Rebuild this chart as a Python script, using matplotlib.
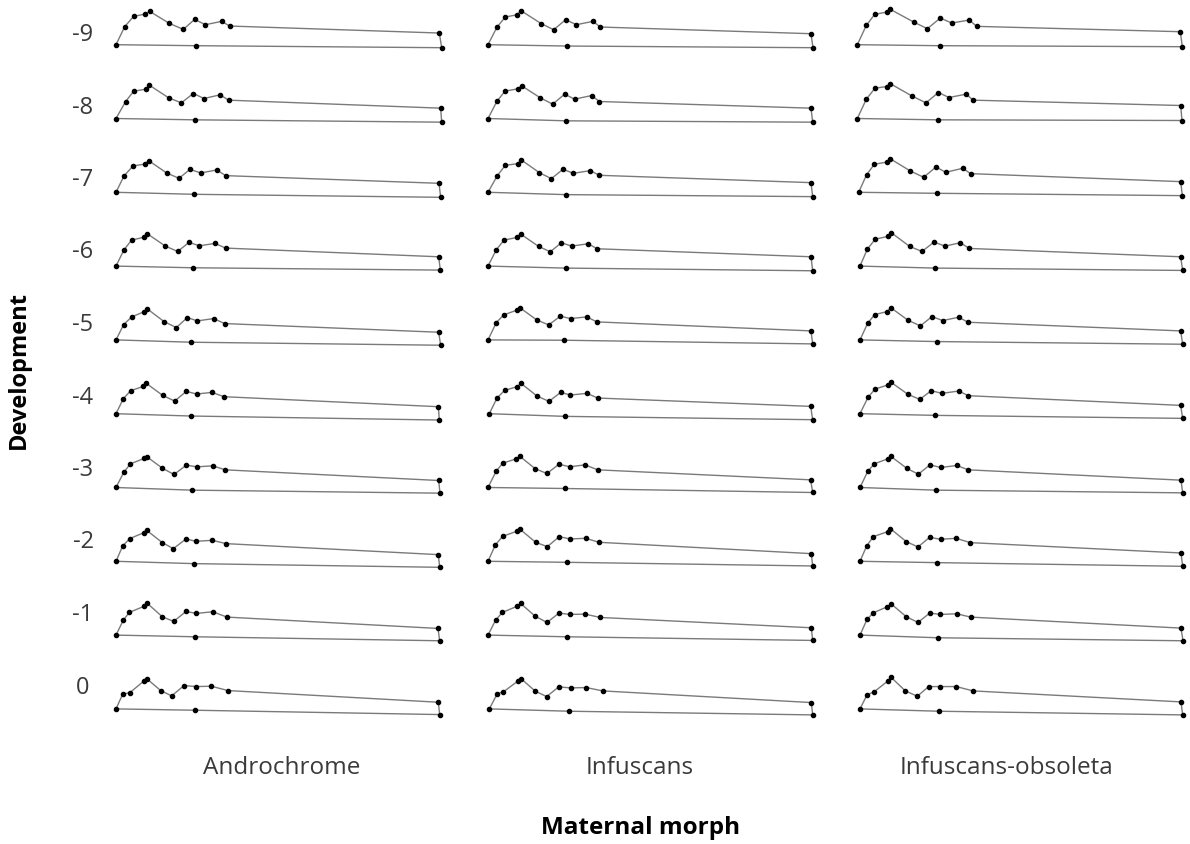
import matplotlib
matplotlib.use("Agg")
import matplotlib.pyplot as plt

# landmark outlines (arbitrary units, landmark 1 at the origin), rows -9 .. 0
dev_stages = ["-9", "-8", "-7", "-6", "-5", "-4", "-3", "-2", "-1", "0"]
morphs = ["Androchrome", "Infuscans", "Infuscans-obsoleta"]

andro_x = [
    [0, 26, 53, 88, 101, 160, 202, 236, 268, 317, 341, 970, 977, 241],
    [0, 29, 53, 90, 100, 158, 196, 232, 264, 312, 338, 974, 977, 238],
    [0, 24, 51, 88, 98, 152, 189, 222, 254, 302, 329, 969, 974, 234],
    [0, 24, 47, 85, 94, 148, 185, 219, 250, 297, 329, 968, 973, 230],
    [0, 23, 47, 83, 94, 144, 181, 214, 244, 293, 326, 968, 974, 226],
    [0, 22, 44, 82, 91, 140, 176, 211, 242, 288, 324, 967, 970, 226],
    [0, 23, 43, 84, 93, 139, 174, 211, 243, 290, 328, 968, 972, 229],
    [0, 20, 41, 84, 92, 139, 172, 210, 240, 289, 330, 967, 971, 234],
    [0, 22, 40, 83, 93, 139, 173, 210, 241, 290, 333, 966, 971, 236],
    [0, 20, 42, 84, 92, 134, 167, 204, 240, 286, 336, 967, 971, 237],
]
andro_y = [
    [0, 54, 85, 92, 100, 64, 46, 76, 60, 70, 56, 35, -9, -3],
    [0, 51, 82, 88, 100, 62, 47, 75, 60, 71, 55, 31, -11, -4],
    [0, 49, 79, 85, 95, 58, 42, 69, 58, 67, 50, 27, -15, -6],
    [0, 49, 78, 87, 97, 60, 44, 71, 61, 68, 54, 28, -12, -5],
    [0, 46, 69, 84, 93, 55, 37, 67, 57, 64, 49, 23, -16, -7],
    [0, 45, 69, 82, 91, 55, 38, 67, 59, 64, 51, 21, -19, -7],
    [0, 45, 71, 87, 92, 58, 39, 67, 62, 65, 53, 21, -17, -8],
    [0, 46, 68, 86, 93, 56, 38, 67, 60, 63, 53, 20, -18, -7],
    [0, 45, 68, 86, 96, 55, 41, 71, 65, 70, 54, 20, -17, -5],
    [0, 44, 49, 84, 91, 55, 39, 70, 67, 68, 55, 20, -17, -4],
]

infus_x = [
    [0, 27, 52, 88, 99, 160, 197, 233, 265, 315, 337, 969, 975, 238],
    [0, 27, 51, 89, 101, 157, 194, 230, 260, 311, 334, 969, 974, 235],
    [0, 28, 52, 90, 100, 154, 190, 225, 256, 307, 334, 969, 974, 235],
    [0, 25, 48, 87, 98, 152, 187, 220, 251, 300, 328, 969, 974, 233],
    [0, 25, 47, 86, 95, 146, 182, 217, 248, 296, 327, 969, 974, 228],
    [4, 27, 50, 87, 99, 147, 183, 218, 247, 297, 329, 968, 974, 231],
    [0, 24, 44, 85, 95, 142, 177, 213, 245, 291, 329, 968, 974, 231],
    [0, 22, 44, 86, 95, 143, 178, 214, 246, 293, 333, 970, 974, 236],
    [0, 23, 43, 86, 98, 141, 177, 213, 246, 291, 336, 970, 974, 236],
    [4, 28, 46, 89, 100, 142, 176, 212, 248, 295, 344, 970, 974, 243],
]
infus_y = [
    [0, 53, 83, 90, 102, 63, 45, 75, 60, 70, 53, 33, -9, -4],
    [0, 52, 82, 89, 98, 62, 43, 73, 58, 69, 51, 31, -11, -7],
    [0, 50, 81, 86, 97, 59, 41, 69, 57, 65, 51, 29, -13, -7],
    [0, 49, 78, 86, 96, 59, 43, 70, 60, 67, 52, 28, -14, -6],
    [0, 52, 75, 89, 97, 60, 45, 71, 64, 69, 54, 27, -12, -1],
    [0, 47, 70, 81, 91, 53, 37, 64, 56, 61, 47, 22, -18, -8],
    [0, 48, 73, 86, 94, 56, 42, 70, 62, 68, 53, 23, -15, -3],
    [0, 49, 75, 90, 97, 57, 44, 74, 67, 69, 57, 23, -14, -3],
    [0, 45, 68, 86, 95, 57, 38, 66, 62, 63, 53, 22, -16, -5],
    [0, 46, 51, 83, 90, 53, 37, 66, 63, 64, 54, 19, -18, -7],
]

obsol_x = [
    [-8, 19, 44, 81, 91, 161, 202, 241, 275, 328, 350, 961, 967, 239],
    [-8, 19, 45, 81, 90, 155, 198, 235, 267, 318, 340, 962, 966, 234],
    [-4, 20, 43, 82, 90, 151, 191, 228, 257, 308, 332, 962, 967, 230],
    [0, 22, 46, 84, 94, 149, 186, 222, 255, 301, 328, 962, 968, 226],
    [0, 23, 44, 82, 92, 144, 181, 216, 248, 296, 324, 962, 968, 230],
    [0, 24, 45, 83, 92, 144, 179, 214, 246, 296, 325, 962, 968, 226],
    [0, 23, 43, 83, 92, 141, 175, 210, 242, 290, 325, 963, 968, 228],
    [0, 20, 40, 83, 91, 139, 174, 209, 242, 288, 331, 963, 968, 231],
    [0, 21, 40, 82, 93, 139, 174, 209, 241, 290, 332, 963, 969, 234],
    [0, 21, 42, 84, 93, 136, 172, 206, 240, 289, 339, 963, 968, 236],
]
obsol_y = [
    [0, 58, 91, 98, 106, 68, 48, 80, 65, 74, 55, 39, -6, -3],
    [0, 58, 91, 96, 105, 68, 47, 78, 63, 73, 55, 39, -6, -4],
    [0, 53, 84, 91, 101, 64, 45, 76, 60, 72, 56, 32, -10, -3],
    [0, 51, 81, 89, 100, 59, 44, 72, 60, 70, 53, 28, -13, -6],
    [0, 50, 76, 85, 97, 59, 42, 70, 58, 68, 53, 27, -13, -5],
    [0, 49, 74, 86, 95, 58, 43, 69, 61, 68, 54, 25, -14, -5],
    [0, 48, 71, 86, 94, 57, 40, 68, 60, 66, 53, 22, -16, -8],
    [0, 46, 74, 89, 98, 59, 43, 72, 66, 69, 56, 25, -15, -4],
    [0, 47, 67, 85, 94, 55, 38, 66, 62, 64, 54, 21, -17, -8],
    [0, 42, 51, 84, 95, 54, 38, 67, 67, 67, 54, 21, -18, -7],
]

shapes = [(andro_x, andro_y), (infus_x, infus_y), (obsol_x, obsol_y)]

W, H = 1190, 845
fig = plt.figure(figsize=(W / 100, H / 100), dpi=100)

# grid layout in pixels
x_first, x_step = 116, 372
y_first, y_step = 45.7, 73.8
cell_w, cell_h = 350, 72

for j, (xs_all, ys_all) in enumerate(shapes):
    for i in range(len(dev_stages)):
        x1 = x_first + x_step * j
        y1 = y_first + y_step * i
        left = (x1 - 10) / W
        bottom = 1 - (y1 + 12) / H
        ax = fig.add_axes([left, bottom, cell_w / W, cell_h / H])
        xs = xs_all[i] + [xs_all[i][0]]
        ys = ys_all[i] + [ys_all[i][0]]
        ax.plot(xs, ys, color="#7a7a7a", lw=1.0, zorder=1)
        ax.plot(xs_all[i], ys_all[i], "o", color="black", ms=3.0, zorder=2)
        ax.set_xlim(-30, -30 + 3 * cell_w)
        ax.set_ylim(-36, -36 + 3 * cell_h)
        ax.axis("off")

# row labels
for i, lab in enumerate(dev_stages):
    y = 35 + 72.5 * i
    fig.text(83 / W, 1 - y / H, lab, ha="center", va="center",
             fontsize=17, color="#3a3a3a", family="Open Sans")

col_centers = [282, 640, 1007]
for cx, lab in zip(col_centers, morphs):
    fig.text(cx / W, 1 - 768 / H, lab, ha="center", va="center",
             fontsize=17.5, color="#3a3a3a", family="Open Sans")

fig.text(19 / W, 1 - 370 / H, "Development", rotation=90, ha="center", va="center",
         fontsize=17, fontweight="bold", color="black", family="Open Sans")
fig.text(641 / W, 1 - 828 / H, "Maternal morph", ha="center", va="center",
         fontsize=17.5, fontweight="bold", color="black", family="Open Sans")

fig.savefig("out.png", dpi=100, facecolor="white")
